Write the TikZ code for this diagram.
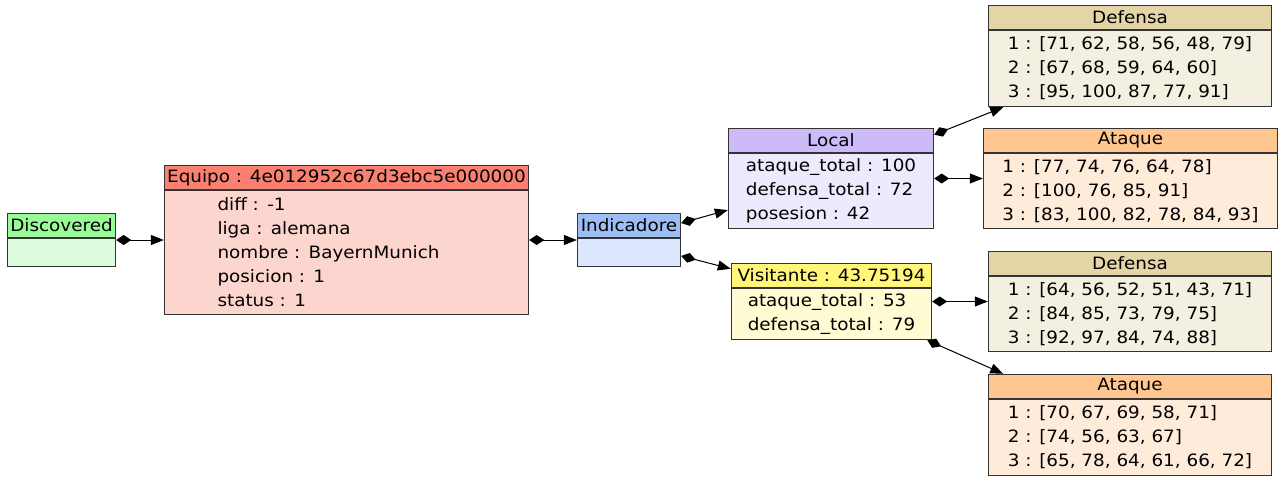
\documentclass[tikz,border=0pt]{standalone}
\usepackage{fontspec}
\setmainfont{DejaVu Sans}[FakeStretch=1.08]
\usetikzlibrary{arrows.meta,positioning,fit}
\definecolor{discHead}{HTML}{98FB98}
\definecolor{discBody}{HTML}{DCFADC}
\definecolor{eqHead}{HTML}{FA8072}
\definecolor{eqBody}{HTML}{FDD5CF}
\definecolor{indHead}{HTML}{9DBDF5}
\definecolor{indBody}{HTML}{DCE6FC}
\definecolor{locHead}{HTML}{CCBBF8}
\definecolor{locBody}{HTML}{EFE9FD}
\definecolor{visHead}{HTML}{FFF67A}
\definecolor{visBody}{HTML}{FFFBD2}
\definecolor{defHead}{HTML}{E3D5A6}
\definecolor{defBody}{HTML}{F3EFE1}
\definecolor{ataHead}{HTML}{FFC690}
\definecolor{ataBody}{HTML}{FFEBDA}
\begin{document}
\begin{tikzpicture}[
x=1pt,y=-1pt,
font=\fontsize{17}{24}\selectfont,
rechead/.style={
  draw=black!80,
  line width=1pt,
  fill=#1,
  minimum height=24pt,
  inner sep=0pt,
  anchor=north west
  },
recbody/.style={
  draw=black!80,
  line width=1pt,
  fill=#1,
  inner sep=0pt,
  align=left
  },
record/.style={fit=#1, inner sep=0pt},
assoc/.style={
  {Diamond[length=15pt,width=10pt]}-{Triangle[length=13pt,width=10pt]},
  line width=1pt
  }
]
\useasboundingbox (0,0) rectangle (1283,477);
% left part
\node[rechead=discHead,minimum width=108pt] (disch) at (7,213) {Discovered};
\node[recbody=discBody,minimum width=108pt,minimum height=28pt,below=0pt of disch] (discb) {};
\node[record={(disch)(discb)}] (disc) {};
\node[rechead=eqHead,minimum width=364pt] (eqh) at (164,165) {Equipo : 4e012952c67d3ebc5e000000};
\node[recbody=eqBody,minimum width=364pt,minimum height=124pt,inner xsep=53pt,text width=258pt,below=0pt of eqh] (eqb)
  {diff : -1\\liga : alemana\\nombre : BayernMunich\\posicion : 1\\status : 1};
\node[record={(eqh)(eqb)}] (eq) {};
\node[rechead=indHead,minimum width=103pt] (indh) at (577,213) {Indicadore};
\node[recbody=indBody,minimum width=103pt,minimum height=28pt,below=0pt of indh] (indb) {};
\node[record={(indh)(indb)}] (ind) {};
% middle part
\node[rechead=locHead,minimum width=205pt] (loch) at (728,128) {Local};
\node[recbody=locBody,minimum width=205pt,minimum height=75pt,below=0pt of loch] (locb)
  {ataque\_total : 100\\defensa\_total : 72\\posesion : 42};
\node[record={(loch)(locb)}] (loc) {};
\node[rechead=visHead,minimum width=200pt] (vish) at (731,263) {Visitante : 43.75194};
\node[recbody=visBody,minimum width=200pt,minimum height=51pt,below=0pt of vish] (visb)
  {ataque\_total : 53\\defensa\_total : 79};
\node[record={(vish)(visb)}] (vis) {};
% right part
\node[rechead=defHead,minimum width=283pt] (defah) at (988,5) {Defensa};
\node[recbody=defBody,minimum width=283pt,minimum height=76pt,below=0pt of defah] (defab)
  {1 : [71, 62, 58, 56, 48, 79]\\2 : [67, 68, 59, 64, 60]\\3 : [95, 100, 87, 77, 91]};
\node[record={(defah)(defab)}] (defa) {};
\node[rechead=ataHead,minimum width=294pt] (atah) at (983,128) {Ataque};
\node[recbody=ataBody,minimum width=294pt,minimum height=75pt,below=0pt of atah] (atab)
  {1 : [77, 74, 76, 64, 78]\\2 : [100, 76, 85, 91]\\3 : [83, 100, 82, 78, 84, 93]};
\node[record={(atah)(atab)}] (ata) {};
\node[rechead=defHead,minimum width=283pt] (defbh) at (988,251) {Defensa};
\node[recbody=defBody,minimum width=283pt,minimum height=75pt,below=0pt of defbh] (defbb)
  {1 : [64, 56, 52, 51, 43, 71]\\2 : [84, 85, 73, 79, 75]\\3 : [92, 97, 84, 74, 88]};
\node[record={(defbh)(defbb)}] (defb) {};
\node[rechead=ataHead,minimum width=283pt] (atbh) at (988,374) {Ataque};
\node[recbody=ataBody,minimum width=283pt,minimum height=76pt,below=0pt of atbh] (atbb)
  {1 : [70, 67, 69, 58, 71]\\2 : [74, 56, 63, 67]\\3 : [65, 78, 64, 61, 66, 72]};
\node[record={(atbh)(atbb)}] (atb) {};
% connectors
\draw[assoc] (disc.east) -- (eq.west);
\draw[assoc] (eq.east) -- (ind.west);
\draw[assoc] (ind.18) -- (loc.197);
\draw[assoc] (ind.-17) -- (vis.162);
\draw[assoc] (loc.23) -- (defa.202);
\draw[assoc] (loc.east) -- (ata.west);
\draw[assoc] (vis.east) -- (defb.west);
\draw[assoc] (vis.-22) -- (atb.158);
\end{tikzpicture}
\end{document}
